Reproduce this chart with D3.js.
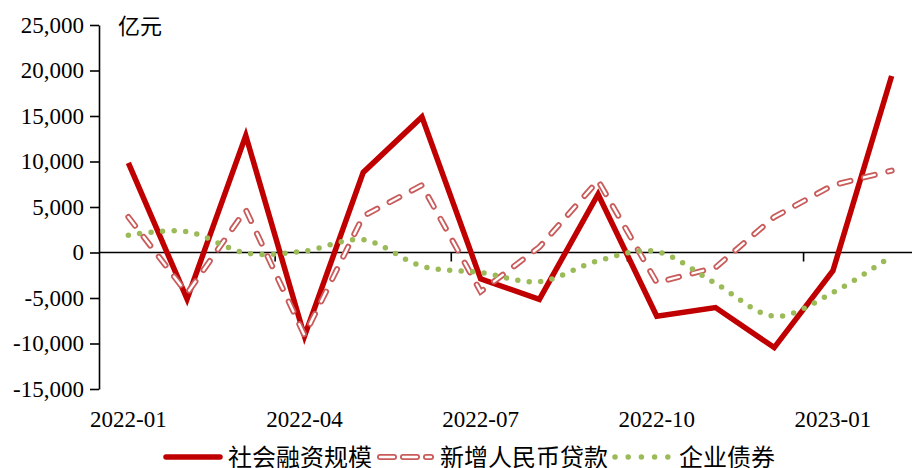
<!DOCTYPE html>
<html>
<head>
<meta charset="utf-8">
<script src="https://cdn.jsdelivr.net/npm/d3@7"></script>
<style>
  body { margin: 0; background: #fff; }
  svg { display: block; }
</style>
</head>
<body>
<script>
// data (同比多增, 亿元)
var months = ["2022-01","2022-02","2022-03","2022-04","2022-05","2022-06","2022-07",
              "2022-08","2022-09","2022-10","2022-11","2022-12","2023-01","2023-02"];
var tsf   = [9850, -5100, 12850, -9200, 8800, 14900, -2900, -5150, 6400, -7000, -6050, -10450, -2000, 19400];
var loans = [3900, -4500, 4700, -9100, 4000, 7400, -4300, 600, 7900, -3300, -1650, 3900, 7400, 9000];
var bonds = [1900, 2300, -50, 150, 1400, -1500, -2200, -3200, -900, 100, -3400, -7000, -4400, -400];
var yTicks = [-15000, -10000, -5000, 0, 5000, 10000, 15000, 20000, 25000];
var xLabels = ["2022-01","2022-04","2022-07","2022-10","2023-01"];
var seriesNames = ["社会融资规模", "新增人民币贷款", "企业债券"];

var W = 912, H = 468;
var svg = d3.select("body").append("svg")
    .attr("width", W)
    .attr("height", H);

// plot runs a bit past the right edge, like the original
var x = d3.scaleBand().domain(months).range([99, 921]);
var y = d3.scaleLinear().domain([-15000, 25000]).range([389, 25]);
var cx = function(m) { return x(m) + x.bandwidth() / 2; };

var serif = "'Liberation Serif', 'Times New Roman', serif";
var cjk = "'Noto Sans CJK SC', sans-serif";

// y axis
var yAxis = svg.append("g")
    .attr("transform", "translate(99,0)")
    .call(d3.axisLeft(y).tickValues(yTicks).tickSizeInner(9).tickSizeOuter(0).tickPadding(6)
        .tickFormat(function(d) { return d3.format(",")(d).replace("\u2212", "-"); }));
yAxis.select(".domain").attr("stroke", "#000").attr("stroke-width", 1.6);
yAxis.selectAll(".tick line").attr("stroke", "#000").attr("stroke-width", 1.6);
yAxis.selectAll(".tick text")
    .style("font-family", serif)
    .style("font-size", "23px")
    .attr("fill", "#000");

svg.append("text")
    .attr("x", 118)
    .attr("y", 34)
    .style("font-family", cjk)
    .style("font-size", "22px")
    .text("亿元");

// zero line + category ticks
svg.append("line")
    .attr("x1", 99).attr("x2", W)
    .attr("y1", y(0)).attr("y2", y(0))
    .attr("stroke", "#000").attr("stroke-width", 1.6);

svg.selectAll(".xtick")
    .data([3, 6, 9, 12])
    .enter().append("line")
    .attr("class", "xtick")
    .attr("x1", function(i) { return x(months[i]); })
    .attr("x2", function(i) { return x(months[i]); })
    .attr("y1", y(0)).attr("y2", y(0) + 9)
    .attr("stroke", "#000").attr("stroke-width", 1.6);

svg.selectAll(".xlabel")
    .data(xLabels)
    .enter().append("text")
    .attr("class", "xlabel")
    .attr("x", function(d) { return cx(d); })
    .attr("y", 427)
    .attr("text-anchor", "middle")
    .style("font-family", serif)
    .style("font-size", "23px")
    .text(function(d) { return d; });

// lines
var straight = d3.line()
    .x(function(d, i) { return cx(months[i]); })
    .y(function(d) { return y(d); });
var smooth = d3.line()
    .x(function(d, i) { return cx(months[i]); })
    .y(function(d) { return y(d); })
    .curve(d3.curveCatmullRom.alpha(0));

svg.append("path")
    .datum(tsf)
    .attr("d", straight)
    .attr("fill", "none")
    .attr("stroke", "#C00000")
    .attr("stroke-width", 5.5)
    .attr("stroke-linejoin", "miter");

// hollow dashes: coloured dash with a white core
svg.append("path")
    .datum(loans)
    .attr("d", straight)
    .attr("fill", "none")
    .attr("stroke", "#C95B5B")
    .attr("stroke-width", 6)
    .attr("stroke-linecap", "round")
    .attr("stroke-dasharray", "11,14");
svg.append("path")
    .datum(loans)
    .attr("d", straight)
    .attr("fill", "none")
    .attr("stroke", "#fff")
    .attr("stroke-width", 2.4)
    .attr("stroke-linecap", "round")
    .attr("stroke-dasharray", "11,14");

svg.append("path")
    .datum(bonds)
    .attr("d", smooth)
    .attr("fill", "none")
    .attr("stroke", "#9BBB59")
    .attr("stroke-width", 5.5)
    .attr("stroke-linecap", "round")
    .attr("stroke-dasharray", "0,11.5");

// legend
var ly = 457;
svg.append("line")
    .attr("x1", 166).attr("x2", 220).attr("y1", ly).attr("y2", ly)
    .attr("stroke", "#C00000").attr("stroke-width", 5.5).attr("stroke-linecap", "round");
svg.append("line")
    .attr("x1", 380).attr("x2", 431).attr("y1", ly).attr("y2", ly)
    .attr("stroke", "#C95B5B").attr("stroke-width", 6).attr("stroke-linecap", "round")
    .attr("stroke-dasharray", "14,9");
svg.append("line")
    .attr("x1", 380).attr("x2", 431).attr("y1", ly).attr("y2", ly)
    .attr("stroke", "#fff").attr("stroke-width", 2.4).attr("stroke-linecap", "round")
    .attr("stroke-dasharray", "14,9");
svg.append("line")
    .attr("x1", 615).attr("x2", 668).attr("y1", ly).attr("y2", ly)
    .attr("stroke", "#9BBB59").attr("stroke-width", 5.5).attr("stroke-linecap", "round")
    .attr("stroke-dasharray", "0,13.2");

svg.selectAll(".legtext")
    .data(seriesNames)
    .enter().append("text")
    .attr("class", "legtext")
    .attr("x", function(d, i) { return [228, 440, 679][i]; })
    .attr("y", ly + 9)
    .style("font-family", cjk)
    .style("font-size", "24px")
    .text(function(d) { return d; });
</script>
</body>
</html>
